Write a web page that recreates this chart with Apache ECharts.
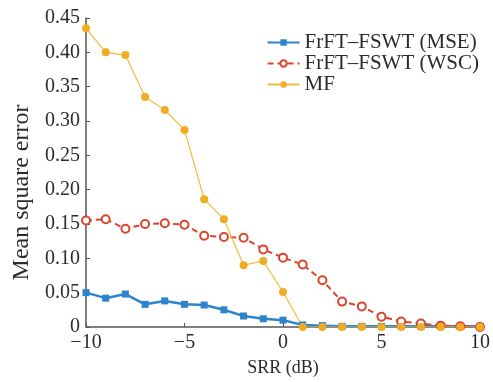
<!DOCTYPE html>
<html>
<head>
<meta charset="utf-8">
<script src="https://cdn.jsdelivr.net/npm/echarts@6/dist/echarts.min.js"></script>
<style>
  html, body { margin: 0; padding: 0; background: #fff; }
  #main { width: 493px; height: 382px; }
</style>
</head>
<body>
<div id="main"></div>
<script>
// SRR values (dB)
const srr = [-10, -9, -8, -7, -6, -5, -4, -3, -2, -1, 0, 1, 2, 3, 4, 5, 6, 7, 8, 9, 10];

const mse = [0.050, 0.042, 0.048, 0.033, 0.038, 0.033, 0.032, 0.025, 0.016, 0.012, 0.010,
  0.003, 0.002, 0.001, 0.001, 0.001, 0.001, 0.001, 0.001, 0.001, 0.001];
const wsc = [0.155, 0.157, 0.143, 0.150, 0.151, 0.149, 0.133, 0.131, 0.130, 0.113, 0.101,
  0.091, 0.068, 0.037, 0.030, 0.015, 0.008, 0.005, 0.002, 0.001, 0.000];
const mf = [0.435, 0.400, 0.396, 0.335, 0.316, 0.287, 0.186, 0.157, 0.090, 0.096, 0.051,
  0, 0, 0, 0, 0, 0, 0, 0, 0, 0];

const seriesNames = ['FrFT\u2013FSWT (MSE)', 'FrFT\u2013FSWT (WSC)', 'MF'];

const pairs = arr => srr.map((x, i) => [x, arr[i]]);

const chart = echarts.init(document.getElementById('main'));
const font = 'Liberation Serif, Times New Roman, serif';
const txt = '#2b2b2b';

const option = {
  animation: false,
  backgroundColor: '#fff',
  grid: { left: 86, right: 11, top: 18, bottom: 55 },
  legend: {
    right: 9,
    top: 27,
    orient: 'vertical',
    itemWidth: 32,
    itemHeight: 8,
    itemGap: 0,
    textStyle: { fontFamily: font, fontSize: 21, color: txt },
    data: seriesNames
  },
  xAxis: {
    type: 'value',
    min: -10, max: 10, interval: 5,
    name: 'SRR (dB)',
    nameLocation: 'middle',
    nameGap: 32,
    nameTextStyle: { fontFamily: font, fontSize: 18, color: txt },
    axisLine: { onZero: false, lineStyle: { color: '#555', width: 1.5 } },
    axisTick: { inside: true, length: 4, lineStyle: { color: '#555' } },
    axisLabel: {
      fontFamily: font, fontSize: 20, color: txt, margin: 6,
      formatter: v => (v < 0 ? '\u2212' + Math.abs(v) : String(v))
    },
    splitLine: { show: false }
  },
  yAxis: {
    type: 'value',
    min: 0, max: 0.45, interval: 0.05,
    name: 'Mean square error',
    nameLocation: 'middle',
    nameGap: 47,
    nameTextStyle: { fontFamily: font, fontSize: 24, color: txt, padding: [0, 40, 0, 0] },
    axisLine: { show: true, onZero: false, lineStyle: { color: '#555', width: 1.5 } },
    axisTick: { show: true, inside: true, length: 4, lineStyle: { color: '#555' } },
    axisLabel: {
      fontFamily: font, fontSize: 20, color: txt, margin: 6,
      formatter: v => (v === 0 ? '0' : v.toFixed(2))
    },
    splitLine: { show: false }
  },
  series: [
    {
      name: seriesNames[0],
      type: 'line',
      data: pairs(mse),
      symbol: 'rect',
      symbolSize: 7,
      itemStyle: { color: '#2b84cc' },
      lineStyle: { color: '#2b84cc', width: 2.5 }
    },
    {
      name: seriesNames[1],
      type: 'line',
      data: pairs(wsc),
      symbol: 'emptyCircle',
      symbolSize: 8,
      itemStyle: { color: '#d9452c', borderWidth: 2 },
      lineStyle: { color: '#d9452c', width: 2, type: [6, 4] }
    },
    {
      name: seriesNames[2],
      type: 'line',
      data: pairs(mf),
      symbol: 'circle',
      symbolSize: 8,
      itemStyle: { color: '#f0ac22' },
      lineStyle: { color: '#f3bc3e', width: 1.2 }
    }
  ]
};

chart.setOption(option);
</script>
</body>
</html>
